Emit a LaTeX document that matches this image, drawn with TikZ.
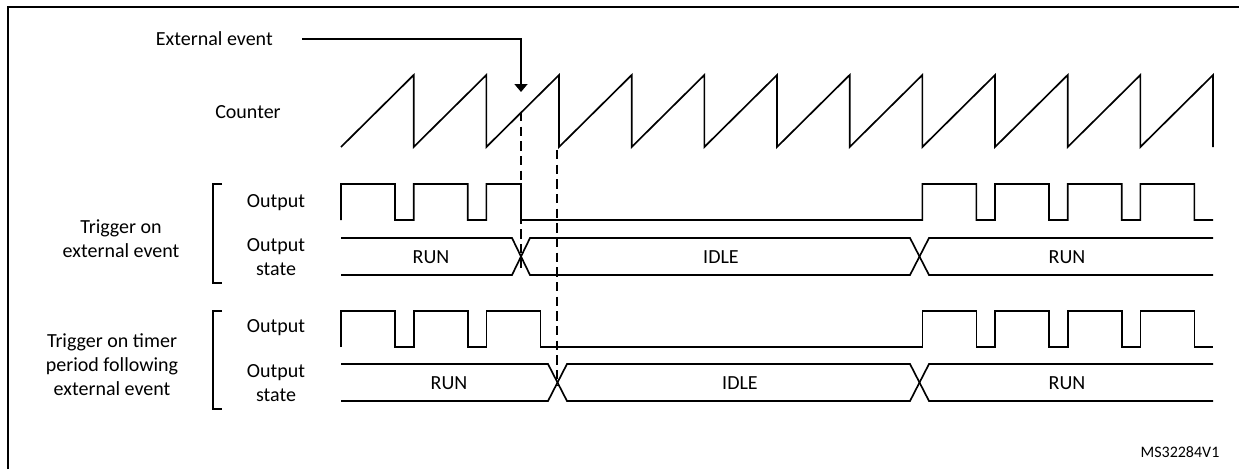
\documentclass[tikz,border=0pt]{standalone}
\usepackage{fontspec}
\setmainfont{Carlito}
\usepackage{tikz}
\usetikzlibrary{arrows.meta,calc,positioning}

\begin{document}
\begin{tikzpicture}[
  x=0.75pt,y=-0.75pt,>=Latex,
  wave/.style={line width=1.25pt,line join=miter},
  bus/.style={line width=1.25pt},
  guide/.style={line width=1.2pt,dash pattern=on 7pt off 4pt},
  lbl/.style={align=center,inner sep=0pt},
  every node/.style={font=\fontsize{15}{18}\selectfont}
]
  \useasboundingbox (0,0) rectangle (1239,469);
  \draw[line width=1.2pt] (8,469) -- (8,7);
  \draw[line width=1.9pt] (7.2,7) -- (1239,7);

  % external event and counter
  \node[lbl,anchor=east] (extev) at (273,39) {External event};
  \coordinate (evtip) at (521,92);
  \draw[line width=1.2pt,-{Triangle[width=9.75pt,length=6pt]}]
    ([xshift=21.75pt]extev.east) -| (evtip);
  \node[lbl] (counter) at (248,112) {Counter};
  \draw[wave] (341,147)
    \foreach \k in {1,...,12} { -- ({341+72.667*\k},75) -- ({341+72.667*\k},147) };

  % dashed markers
  \coordinate (evA) at (521,112);
  \coordinate (evAend) at (521,270);
  \coordinate (evB) at (557,150);
  \coordinate (evBend) at (557,386);
  \draw[guide] (evA) -- (evAend);
  \draw[guide] (evB) -- (evBend);

  % trigger on external event
  \draw[bus] (222,184) -- (213,184) -- (213,283) -- (222,283);
  \node[lbl] (grpA) at (121,239) {Trigger on\\external event};
  \node[lbl] (outA) at (276,203) {Output};
  \node[lbl] (stA) at (276,257) {Output\\state};
  \draw[wave] (341,220)
    \foreach \k in {0,1} { -- ({341+72.667*\k},184) -- ({395+72.667*\k},184)
      -- ({395+72.667*\k},220) -- ({413.667+72.667*\k},220) }
    -- (486.333,184) -- (521,184) -- (521,220)
    \foreach \k in {8,...,11} { -- ({341+72.667*\k},220) -- ({341+72.667*\k},184)
      -- ({395+72.667*\k},184) -- ({395+72.667*\k},220) }
    -- (1213,220);
  \draw[bus] (341,238) -- (512,238) -- (530,275) -- (910,275) -- (929,238) -- (1213,238);
  \draw[bus] (341,275) -- (512,275) -- (530,238) -- (910,238) -- (929,275) -- (1213,275);
  \node[lbl] (runA) at (431,257) {RUN};
  \node[lbl] (idleA) at (721,257) {IDLE};
  \node[lbl] (runA2) at (1067,257) {RUN};

  % trigger on timer period following external event
  \draw[bus] (222,311) -- (213,311) -- (213,409) -- (222,409);
  \node[lbl] (grpB) at (112,365) {Trigger on timer\\period following\\external event};
  \node[lbl] (outB) at (276,328) {Output};
  \node[lbl] (stB) at (276,383) {Output\\state};
  \draw[wave] (341,347)
    \foreach \k in {0,1,2} { -- ({341+72.667*\k},311) -- ({395+72.667*\k},311)
      -- ({395+72.667*\k},347) -- ({413.667+72.667*\k},347) }
    \foreach \k in {8,...,11} { -- ({341+72.667*\k},347) -- ({341+72.667*\k},311)
      -- ({395+72.667*\k},311) -- ({395+72.667*\k},347) }
    -- (1213,347);
  \draw[bus] (341,364) -- (548,364) -- (567,401) -- (910,401) -- (929,364) -- (1213,364);
  \draw[bus] (341,401) -- (548,401) -- (567,364) -- (910,364) -- (929,401) -- (1213,401);
  \node[lbl] (runB) at (449,383) {RUN};
  \node[lbl] (idleB) at (740,383) {IDLE};
  \node[lbl] (runB2) at (1067,383) {RUN};

  \node[lbl,font=\fontsize{12}{14}\selectfont] (docid) at (1180,452) {MS32284V1};
\end{tikzpicture}
\end{document}
